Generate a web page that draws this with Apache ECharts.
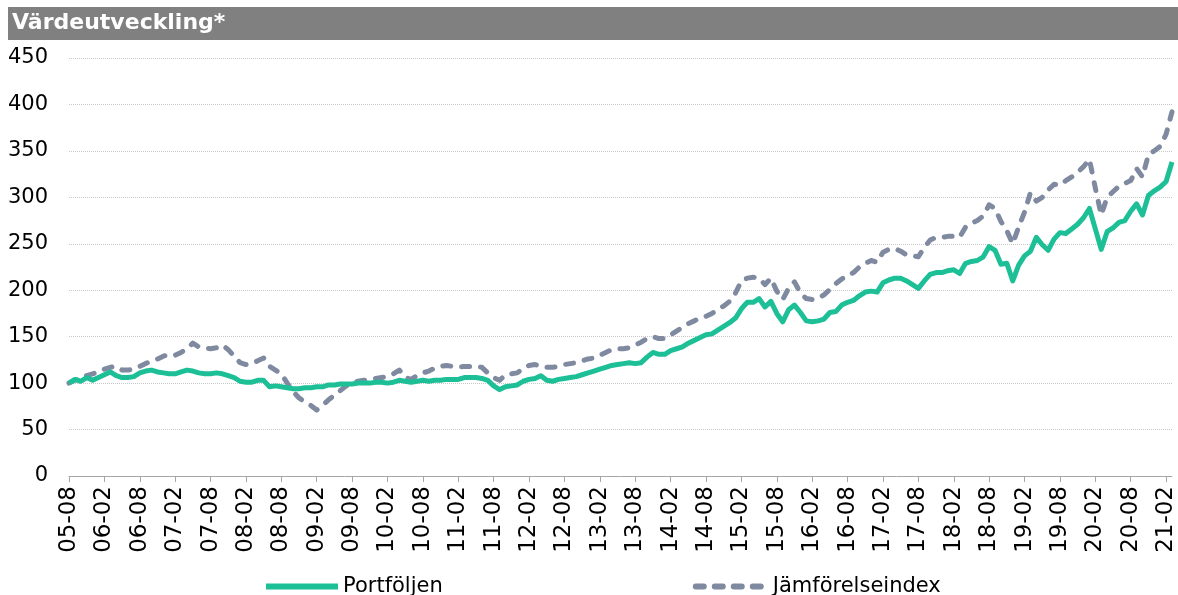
<!DOCTYPE html>
<html>
<head>
<meta charset="utf-8">
<script src="https://cdn.jsdelivr.net/npm/echarts@6/dist/echarts.min.js"></script>
<style>
  html, body { margin: 0; padding: 0; background: #fff; }
  #chart { width: 1178px; height: 595px; }
</style>
</head>
<body>
<div id="chart"></div>
<script>
// monthly index values, 05-08 .. 21-03 (start = 100)
const portfoljen = [
  100, 104, 102, 106, 103, 106, 109, 112, 108, 106, 106, 107,
  111, 113, 114, 112, 111, 110, 110, 112, 114, 113, 111, 110,
  110, 111, 110, 108, 106, 102, 101, 101, 103, 103, 96, 97,
  96, 95, 94, 94, 95, 95, 96, 96, 98, 98, 99, 99,
  99, 100, 100, 100, 101, 101, 100, 101, 103, 102, 101, 102,
  103, 102, 103, 103, 104, 104, 104, 106, 106, 106, 105, 103,
  97, 93, 96, 97, 98, 102, 104, 105, 108, 103, 102, 104,
  105, 106, 107, 109, 111, 113, 115, 117, 119, 120, 121, 122,
  121, 122, 128, 133, 131, 131, 135, 137, 139, 143, 146, 149,
  152, 153, 157, 161, 165, 170, 180, 187, 187, 191, 182, 188,
  175, 166, 179, 184, 176, 167, 166, 167, 169, 176, 177, 184,
  187, 189, 194, 198, 199, 198, 208, 211, 213, 213, 210, 206,
  202, 210, 217, 219, 219, 221, 222, 218, 229, 231, 232, 236,
  247, 243, 228, 229, 210, 227, 237, 242, 257, 249, 243, 255,
  262, 261, 266, 271, 278, 288, 266, 244, 263, 267, 273, 275,
  285, 293, 281, 302, 307, 311, 317, 338
];

const jamforelseindex = [
  100, 103, 106, 108, 110, 112, 115, 117, 118, 114, 114, 115,
  118, 121, 124, 126, 129, 131, 130, 133, 137, 143, 139, 138,
  137, 138, 141, 136, 129, 122, 120, 121, 124, 127, 118, 114,
  110, 100, 91, 84, 80, 76, 71, 76, 82, 87, 92, 97,
  100, 102, 103, 104, 105, 106, 107, 110, 114, 106, 104, 108,
  111, 113, 116, 118, 119, 118, 117, 118, 118, 118, 117, 111,
  106, 103, 109, 110, 111, 116, 119, 120, 118, 117, 117, 118,
  120, 121, 122, 124, 126, 127, 130, 133, 136, 137, 137, 138,
  141, 144, 148, 150, 148, 148, 152, 156, 160, 164, 167, 170,
  172, 175, 179, 183, 188, 197, 210, 213, 214, 213, 206, 213,
  199, 190, 202, 209, 197, 191, 190, 191, 195, 201, 207, 212,
  216, 219, 225, 229, 232, 230, 241, 244, 245, 242, 238, 237,
  236, 246, 254, 257, 257, 258, 258, 257, 268, 272, 275, 280,
  292, 288, 274, 264, 250, 268, 284, 305, 296, 300, 308, 314,
  313, 318, 322, 327, 333, 341, 310, 281, 300, 306, 312, 315,
  318, 331, 322, 346, 350, 355, 368, 392
];

// category labels "YY-MM", one per month from 05-08
const months = [];
for (let i = 0; i < portfoljen.length; i++) {
  const m = 7 + i;
  const yy = 5 + Math.floor(m / 12);
  const mm = (m % 12) + 1;
  months.push(String(yy).padStart(2, '0') + '-' + String(mm).padStart(2, '0'));
}

const font = 'Verdana, "DejaVu Sans", sans-serif';

const chart = echarts.init(document.getElementById('chart'));

chart.setOption({
  animation: false,
  textStyle: { fontFamily: font },
  graphic: [{
    type: 'rect',
    shape: { x: 8, y: 7, width: 1170, height: 33 },
    style: { fill: '#808080' },
    z: 0
  }],
  title: {
    text: 'Värdeutveckling*',
    left: 12,
    top: 12,
    padding: 0,
    textStyle: { color: '#fff', fontSize: 22, fontWeight: 'bold', fontFamily: font }
  },
  legend: {
    left: 258,
    top: 571,
    itemWidth: 72,
    itemHeight: 8,
    itemGap: 250,
    itemStyle: { opacity: 0 },
    lineStyle: { width: 6 },
    textStyle: { fontSize: 21, color: '#000', fontFamily: font },
    data: ['Portföljen', 'Jämförelseindex']
  },
  grid: { left: 69, right: 6, top: 58, bottom: 119 },
  xAxis: {
    type: 'category',
    data: months,
    boundaryGap: false,
    axisLine: { lineStyle: { color: '#a6a6a6', width: 1 } },
    axisTick: { interval: 5, length: 6, lineStyle: { color: '#a6a6a6' } },
    axisLabel: {
      interval: 5, rotate: 90, margin: 10,
      fontSize: 23, color: '#000', fontFamily: font
    },
    splitLine: { show: false }
  },
  yAxis: {
    type: 'value',
    min: 0, max: 450, interval: 50,
    axisLine: { show: false },
    axisTick: { show: false },
    axisLabel: { fontSize: 21, color: '#000', margin: 21, fontFamily: font },
    splitLine: { lineStyle: { color: '#c8c8c8', type: 'dotted', width: 1 } }
  },
  series: [
    {
      name: 'Portföljen',
      type: 'line',
      data: portfoljen,
      symbol: 'none',
      color: '#1dbf97',
      lineStyle: { width: 5, color: '#1dbf97', join: 'round' },
      z: 3
    },
    {
      name: 'Jämförelseindex',
      type: 'line',
      data: jamforelseindex,
      symbol: 'none',
      color: '#7f8aa0',
      lineStyle: { width: 5, color: '#7f8aa0', type: [8, 11], cap: 'round', join: 'round' },
      z: 2
    }
  ]
});

window.addEventListener('resize', () => chart.resize());
</script>
</body>
</html>
